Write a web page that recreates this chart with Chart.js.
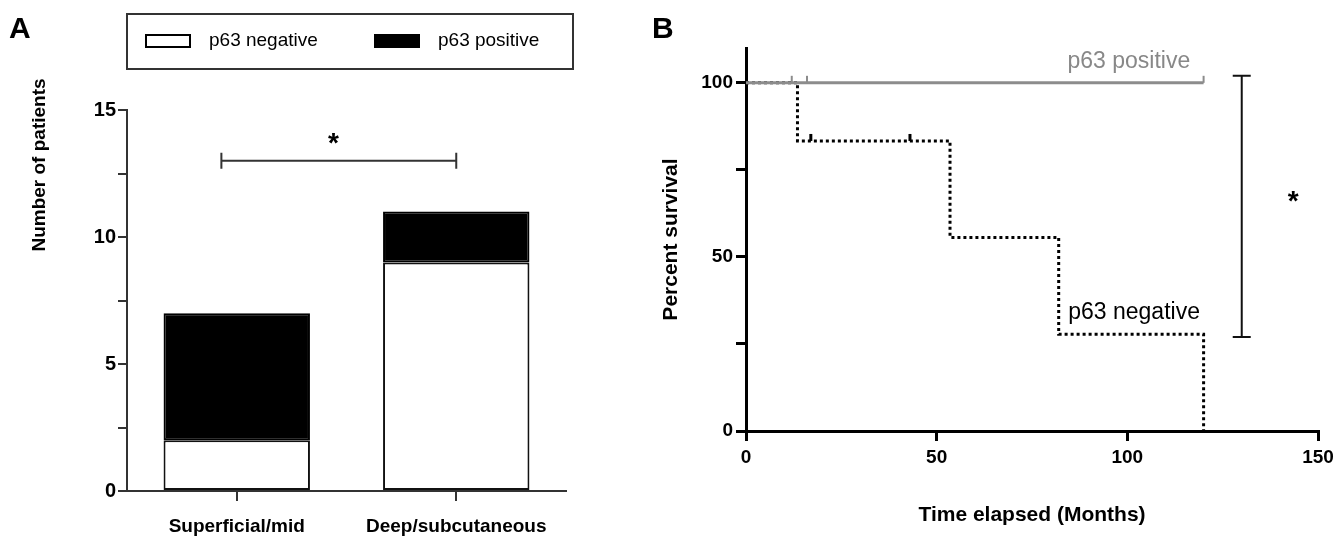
<!DOCTYPE html>
<html>
<head>
<meta charset="utf-8">
<script src="https://cdn.jsdelivr.net/npm/chart.js@4.4.1/dist/chart.umd.min.js"></script>
<style>
  html, body { margin: 0; padding: 0; background: #fff; }
  #wrap { position: relative; width: 1344px; height: 538px; }
  #depthChart { position: absolute; left: 0; top: 0; }
  #survivalChart { position: absolute; left: 600px; top: 0; }
</style>
</head>
<body>
<div id="wrap">
  <canvas id="depthChart" width="600" height="538"></canvas>
  <canvas id="survivalChart" width="744" height="538"></canvas>
</div>
<script>
// panel A - invasion depth
const depthLabels = ['Superficial/mid', 'Deep/subcutaneous'];
const p63Negative = [2, 9];
const p63Positive = [5, 2];
const countTicks = [0, 2.5, 5, 7.5, 10, 12.5, 15];

// panel B - survival
const posMonths = [0, 120];
const posSurvival = [100, 100];
const negMonths = [0, 13.5, 53.5, 82, 120];
const negSurvival = [100, 83.3, 55.6, 27.8, 0];
const posCensorMonths = [12, 16, 120];
const posCensorSurvival = [100, 100, 100];
const negCensorMonths = [17, 43];
const negCensorSurvival = [83.3, 83.3];
const survivalTicks = [0, 25, 50, 75, 100];
const monthTicks = [0, 50, 100, 150];

const FONT = "'Liberation Sans', Arial, Helvetica, sans-serif";
Chart.defaults.font.family = FONT;
Chart.defaults.color = '#000';

const toPoints = (xs, ys) => xs.map((x, i) => ({ x: x, y: ys[i] }));

const depthExtras = {
    id: 'depthExtras',
    afterDraw(chart) {
        const ctx = chart.ctx;
        const x = chart.scales.x, y = chart.scales.y;
        ctx.save();

        // legend box
        ctx.strokeStyle = '#333';
        ctx.lineWidth = 2;
        ctx.strokeRect(127, 14, 446, 55);
        const itemX = [146, 375];
        ctx.font = '19px ' + FONT;
        ctx.textBaseline = 'middle';
        ctx.textAlign = 'left';
        chart.data.datasets.forEach((ds, i) => {
            ctx.fillStyle = ds.backgroundColor;
            ctx.fillRect(itemX[i], 35, 44, 12);
            ctx.strokeStyle = '#000';
            ctx.lineWidth = 2;
            ctx.strokeRect(itemX[i], 35, 44, 12);
            ctx.fillStyle = '#000';
            ctx.fillText(ds.label, itemX[i] + 63, 41);
        });

        // y title
        ctx.save();
        ctx.translate(40, 165);
        ctx.rotate(-Math.PI / 2);
        ctx.textAlign = 'center';
        ctx.font = 'bold 19px ' + FONT;
        ctx.fillText('Number of patients', 0, 0);
        ctx.restore();

        // significance bracket
        const x0 = x.getPixelForValue(-0.07), x1 = x.getPixelForValue(1);
        const yb = y.getPixelForValue(13);
        ctx.strokeStyle = '#333';
        ctx.lineWidth = 2;
        ctx.beginPath();
        ctx.moveTo(x0, yb); ctx.lineTo(x1, yb);
        ctx.moveTo(x0, yb - 8); ctx.lineTo(x0, yb + 8);
        ctx.moveTo(x1, yb - 8); ctx.lineTo(x1, yb + 8);
        ctx.stroke();
        ctx.font = 'bold 28px ' + FONT;
        ctx.textAlign = 'center';
        ctx.fillText('*', x.getPixelForValue(0.44), y.getPixelForValue(13.9) + 6);

        // panel letter
        ctx.font = 'bold 30px ' + FONT;
        ctx.textAlign = 'left';
        ctx.textBaseline = 'top';
        ctx.fillText('A', 9, 15);
        ctx.restore();
    }
};

const survivalExtras = {
    id: 'survivalExtras',
    afterDraw(chart) {
        const ctx = chart.ctx;
        const x = chart.scales.x, y = chart.scales.y;
        ctx.save();
        ctx.textBaseline = 'middle';

        ctx.font = '23px ' + FONT;
        ctx.fillStyle = '#888';
        ctx.textAlign = 'right';
        ctx.fillText('p63 positive', x.getPixelForValue(116.5), y.getPixelForValue(106));
        ctx.fillStyle = '#000';
        ctx.textAlign = 'left';
        ctx.fillText('p63 negative', x.getPixelForValue(84.5), y.getPixelForValue(34));

        // log-rank bracket
        const bx = x.getPixelForValue(130);
        const yt = y.getPixelForValue(102), yb = y.getPixelForValue(27);
        ctx.strokeStyle = '#111';
        ctx.lineWidth = 2;
        ctx.beginPath();
        ctx.moveTo(bx, yt); ctx.lineTo(bx, yb);
        ctx.moveTo(bx - 9, yt); ctx.lineTo(bx + 9, yt);
        ctx.moveTo(bx - 9, yb); ctx.lineTo(bx + 9, yb);
        ctx.stroke();
        ctx.font = 'bold 28px ' + FONT;
        ctx.textAlign = 'center';
        ctx.fillText('*', x.getPixelForValue(143.5), y.getPixelForValue(67.5) + 6);

        ctx.font = 'bold 30px ' + FONT;
        ctx.textAlign = 'left';
        ctx.textBaseline = 'top';
        ctx.fillText('B', 52, 15);
        ctx.restore();
    }
};

new Chart(document.getElementById('depthChart'), {
    type: 'bar',
    data: {
        labels: depthLabels,
        datasets: [
            { label: 'p63 negative', data: p63Negative, backgroundColor: '#fff', borderColor: '#111', borderWidth: 2, borderSkipped: false },
            { label: 'p63 positive', data: p63Positive, backgroundColor: '#000', borderColor: '#000', borderWidth: 2, borderSkipped: false }
        ]
    },
    options: {
        responsive: false,
        animation: false,
        layout: { padding: { top: 110, right: 34, left: 0, bottom: 0 } },
        datasets: { bar: { barPercentage: 0.667, categoryPercentage: 1 } },
        plugins: { legend: { display: false }, tooltip: { enabled: false } },
        scales: {
            x: {
                stacked: true,
                grid: { offset: false, drawOnChartArea: false, tickLength: 10, color: '#333', lineWidth: 2 },
                border: { color: '#333', width: 2 },
                ticks: { font: { size: 19, weight: 'bold' }, padding: 14 },
                afterFit: s => { s.height = 47; }
            },
            y: {
                stacked: true,
                min: 0,
                max: 15,
                afterBuildTicks: s => { s.ticks = countTicks.map(v => ({ value: v })); },
                grid: { drawOnChartArea: false, tickLength: 9, color: '#333', lineWidth: 2 },
                border: { color: '#333', width: 2 },
                ticks: { font: { size: 20, weight: 'bold' }, padding: 2, callback: v => (v % 5 === 0 ? v : '') },
                afterFit: s => { s.width = 127; }
            }
        }
    },
    plugins: [depthExtras]
});

new Chart(document.getElementById('survivalChart'), {
    type: 'line',
    data: {
        datasets: [
            { label: 'p63 positive', data: toPoints(posMonths, posSurvival), stepped: 'before', borderColor: '#8c8c8c', borderWidth: 3, pointRadius: 0 },
            { label: 'p63 negative', data: toPoints(negMonths, negSurvival), stepped: 'before', borderColor: '#000', borderWidth: 3, borderDash: [3, 3], pointRadius: 0 },
            { label: 'positive censored', data: toPoints(posCensorMonths, posCensorSurvival), showLine: false, pointStyle: 'dash', rotation: -90, pointRadius: 7, pointBorderWidth: 2, pointBorderColor: '#8c8c8c' },
            { label: 'negative censored', data: toPoints(negCensorMonths, negCensorSurvival), showLine: false, pointStyle: 'dash', rotation: -90, pointRadius: 7, pointBorderWidth: 3, pointBorderColor: '#000' }
        ]
    },
    options: {
        responsive: false,
        animation: false,
        layout: { padding: { top: 48, right: 26, left: 0, bottom: 0 } },
        plugins: { legend: { display: false }, tooltip: { enabled: false } },
        scales: {
            x: {
                type: 'linear',
                min: 0,
                max: 150,
                afterBuildTicks: s => { s.ticks = monthTicks.map(v => ({ value: v })); },
                grid: { drawOnChartArea: false, tickLength: 10, color: '#000', lineWidth: 3 },
                border: { color: '#000', width: 3 },
                ticks: { font: { size: 19, weight: 'bold' }, padding: 5 },
                title: { display: true, text: 'Time elapsed (Months)', font: { size: 21, weight: 'bold' }, padding: { top: 0, bottom: 10 } },
                afterFit: s => { s.height = 107; }
            },
            y: {
                min: 0,
                max: 110,
                afterBuildTicks: s => { s.ticks = survivalTicks.map(v => ({ value: v })); },
                grid: { drawOnChartArea: false, tickLength: 10, color: '#000', lineWidth: 3 },
                border: { color: '#000', width: 3 },
                ticks: { font: { size: 19, weight: 'bold' }, padding: 3, callback: v => (v % 50 === 0 ? v : '') },
                title: { display: true, text: 'Percent survival', font: { size: 21, weight: 'bold' }, padding: { top: 59 } },
                afterFit: s => { s.width = 146; }
            }
        }
    },
    plugins: [survivalExtras]
});
</script>
</body>
</html>
